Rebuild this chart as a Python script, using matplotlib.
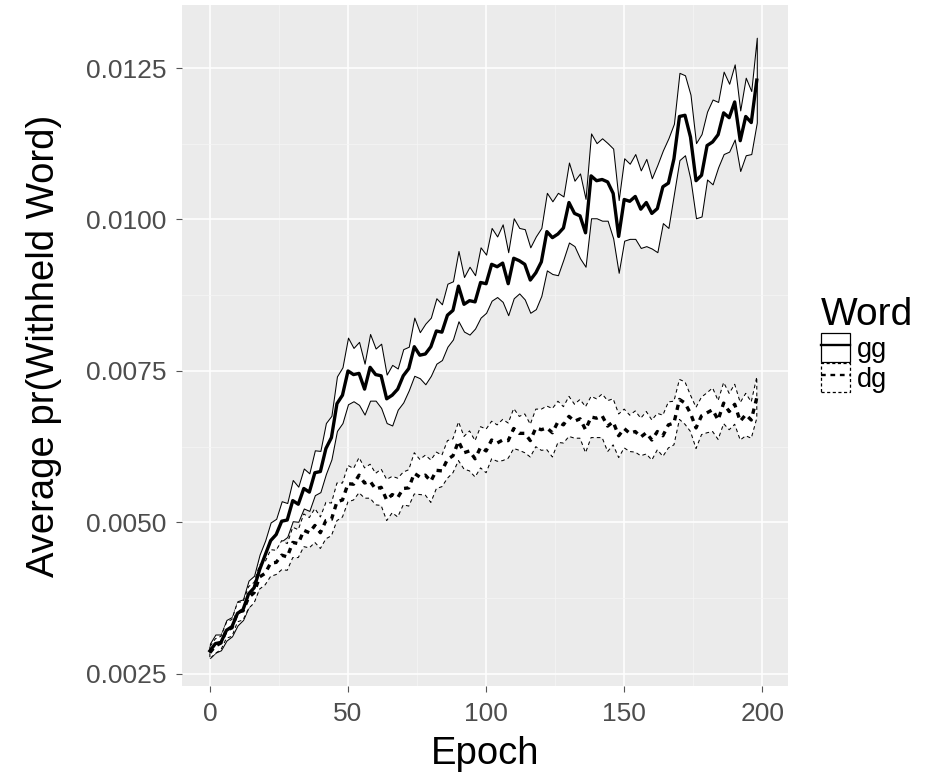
import matplotlib
matplotlib.use("Agg")
import matplotlib.pyplot as plt
from matplotlib.patches import Patch
from matplotlib.lines import Line2D
from matplotlib.legend_handler import HandlerTuple
import numpy as np

plt.rcParams['font.family'] = ['Liberation Sans', 'DejaVu Sans']

# Epochs at which the held-out probability was recorded
epochs = list(range(0, 200, 2))

# Word "gg": mean probability and half-width of its band
gg_mean = [
    0.00288, 0.00300, 0.00302, 0.00322, 0.00328, 0.00350, 0.00356, 0.00382, 0.00392, 0.00422,
    0.00446, 0.00470, 0.00480, 0.00502, 0.00504, 0.00536, 0.00530, 0.00556, 0.00550, 0.00582,
    0.00584, 0.00622, 0.00640, 0.00696, 0.00710, 0.00750, 0.00744, 0.00746, 0.00720, 0.00756,
    0.00744, 0.00742, 0.00704, 0.00710, 0.00720, 0.00742, 0.00754, 0.00790, 0.00776, 0.00778,
    0.00790, 0.00816, 0.00814, 0.00842, 0.00850, 0.00890, 0.00860, 0.00866, 0.00864, 0.00896,
    0.00894, 0.00926, 0.00922, 0.00928, 0.00894, 0.00936, 0.00932, 0.00926, 0.00900, 0.00912,
    0.00930, 0.00980, 0.00970, 0.00976, 0.00986, 0.01028, 0.01010, 0.01006, 0.00978, 0.01072,
    0.01064, 0.01066, 0.01062, 0.01043, 0.00972, 0.01033, 0.01030, 0.01038, 0.01017, 0.01028,
    0.01010, 0.01018, 0.01054, 0.01060, 0.01100, 0.01170, 0.01172, 0.01136, 0.01064, 0.01073,
    0.01122, 0.01128, 0.01140, 0.01176, 0.01168, 0.01194, 0.01130, 0.01170, 0.01160, 0.01230,
]
gg_se = [
    0.00012, 0.00015, 0.00013, 0.00017, 0.00016, 0.00020, 0.00017, 0.00022, 0.00020, 0.00025,
    0.00024, 0.00030, 0.00026, 0.00033, 0.00028, 0.00034, 0.00029, 0.00033, 0.00031, 0.00037,
    0.00034, 0.00042, 0.00036, 0.00045, 0.00046, 0.00055, 0.00044, 0.00052, 0.00042, 0.00055,
    0.00043, 0.00053, 0.00040, 0.00050, 0.00034, 0.00044, 0.00036, 0.00048, 0.00038, 0.00050,
    0.00048, 0.00054, 0.00046, 0.00052, 0.00048, 0.00058, 0.00045, 0.00056, 0.00044, 0.00058,
    0.00048, 0.00060, 0.00050, 0.00064, 0.00052, 0.00066, 0.00054, 0.00058, 0.00054, 0.00060,
    0.00056, 0.00064, 0.00060, 0.00068, 0.00052, 0.00066, 0.00054, 0.00070, 0.00056, 0.00070,
    0.00062, 0.00068, 0.00064, 0.00074, 0.00060, 0.00068, 0.00062, 0.00070, 0.00064, 0.00072,
    0.00058, 0.00072, 0.00060, 0.00074, 0.00058, 0.00072, 0.00066, 0.00070, 0.00062, 0.00068,
    0.00056, 0.00070, 0.00054, 0.00068, 0.00056, 0.00062, 0.00050, 0.00064, 0.00052, 0.00070,
]

# Word "dg": mean probability and half-width of its band
dg_mean = [
    0.00285, 0.00296, 0.00301, 0.00322, 0.00326, 0.00352, 0.00354, 0.00376, 0.00384, 0.00410,
    0.00416, 0.00433, 0.00434, 0.00446, 0.00443, 0.00467, 0.00465, 0.00487, 0.00483, 0.00495,
    0.00483, 0.00503, 0.00505, 0.00534, 0.00537, 0.00564, 0.00563, 0.00578, 0.00565, 0.00568,
    0.00555, 0.00558, 0.00537, 0.00546, 0.00541, 0.00556, 0.00557, 0.00581, 0.00575, 0.00578,
    0.00568, 0.00586, 0.00585, 0.00604, 0.00610, 0.00634, 0.00615, 0.00618, 0.00605, 0.00624,
    0.00618, 0.00636, 0.00631, 0.00636, 0.00635, 0.00655, 0.00647, 0.00647, 0.00635, 0.00656,
    0.00653, 0.00656, 0.00648, 0.00666, 0.00661, 0.00675, 0.00667, 0.00671, 0.00653, 0.00674,
    0.00672, 0.00676, 0.00659, 0.00666, 0.00643, 0.00655, 0.00647, 0.00650, 0.00641, 0.00648,
    0.00636, 0.00650, 0.00643, 0.00661, 0.00664, 0.00703, 0.00697, 0.00680, 0.00656, 0.00676,
    0.00681, 0.00686, 0.00669, 0.00697, 0.00683, 0.00695, 0.00667, 0.00678, 0.00669, 0.00706,
]
dg_se = [
    0.00010, 0.00012, 0.00011, 0.00013, 0.00014, 0.00016, 0.00015, 0.00018, 0.00017, 0.00020,
    0.00019, 0.00022, 0.00020, 0.00024, 0.00022, 0.00025, 0.00023, 0.00027, 0.00025, 0.00028,
    0.00026, 0.00030, 0.00027, 0.00031, 0.00028, 0.00030, 0.00026, 0.00029, 0.00025, 0.00028,
    0.00026, 0.00030, 0.00034, 0.00030, 0.00032, 0.00027, 0.00030, 0.00034, 0.00029, 0.00033,
    0.00035, 0.00030, 0.00026, 0.00031, 0.00028, 0.00032, 0.00027, 0.00033, 0.00030, 0.00034,
    0.00036, 0.00031, 0.00030, 0.00034, 0.00029, 0.00033, 0.00028, 0.00032, 0.00027, 0.00031,
    0.00034, 0.00036, 0.00040, 0.00034, 0.00030, 0.00033, 0.00028, 0.00032, 0.00038, 0.00034,
    0.00032, 0.00036, 0.00042, 0.00038, 0.00036, 0.00032, 0.00030, 0.00034, 0.00031, 0.00035,
    0.00033, 0.00030, 0.00034, 0.00038, 0.00036, 0.00033, 0.00035, 0.00030, 0.00034, 0.00031,
    0.00033, 0.00036, 0.00032, 0.00034, 0.00030, 0.00033, 0.00031, 0.00035, 0.00030, 0.00034,
]

words = ["gg", "dg"]
x_ticks = [0, 50, 100, 150, 200]
y_ticks = [0.0025, 0.0050, 0.0075, 0.0100, 0.0125]

fig = plt.figure(figsize=(9.3, 7.82), dpi=100)
ax = fig.add_axes([182 / 930, 1 - 686 / 782, (788 - 182) / 930, (686 - 5) / 782])
ax.set_facecolor('#EBEBEB')
for s in ax.spines.values():
    s.set_visible(False)

ax.set_xlim(-10.1, 209.3)
ax.set_ylim(0.00230, 0.01354)

# grid
ax.set_xticks(x_ticks)
ax.set_yticks(y_ticks)
ax.set_xticks([25, 75, 125, 175], minor=True)
ax.set_yticks([0.00375, 0.00625, 0.00875, 0.01125], minor=True)
ax.grid(True, which='major', color='white', linewidth=1.1)
ax.grid(True, which='minor', color='#F5F5F5', linewidth=0.55)
ax.set_axisbelow(True)

ax.set_xticklabels([str(v) for v in x_ticks])
ax.set_yticklabels(["%.4f" % v for v in y_ticks])
ax.tick_params(axis='both', which='major', colors='#555555', labelsize=19,
               length=4.5, width=0.8, pad=7)
ax.tick_params(axis='both', which='minor', length=0)
for lab in ax.get_xticklabels() + ax.get_yticklabels():
    lab.set_color('#4D4D4D')

x = np.array(epochs)
series = [
    (np.array(gg_mean), np.array(gg_se), None, None),
    (np.array(dg_mean), np.array(dg_se), (0, (3.5, 3.0)), (0, (1.6, 1.6))),
]

# bands first, then mean lines on top
for mean, se, band_dash, line_dash in series:
    ax.fill_between(x, mean - se, mean + se, facecolor='white', edgecolor='black',
                    linewidth=0.75, linestyle=band_dash if band_dash else '-', zorder=2)
for mean, se, band_dash, line_dash in series:
    ax.plot(x, mean, color='black', linewidth=2.4,
            linestyle=line_dash if line_dash else '-', zorder=3)

ax.set_xlabel("Epoch", fontsize=27.5, labelpad=7)
ax.set_ylabel("Average pr(Withheld Word)", fontsize=27.5, labelpad=17)

handles = [
    (Patch(facecolor='white', edgecolor='black', linewidth=0.9, linestyle='-'),
     Line2D([], [], color='black', linewidth=1.7)),
    (Patch(facecolor='white', edgecolor='black', linewidth=0.9, linestyle=(0, (2.5, 2.0))),
     Line2D([], [], color='black', linewidth=1.7, linestyle=(0, (2.0, 2.0)))),
]
leg = fig.legend(handles, words, loc='upper left',
                 bbox_to_anchor=(802 / 930, 1 - 278 / 782),
                 handler_map={tuple: HandlerTuple(ndivide=1, pad=0)},
                 title="Word", title_fontsize=28, fontsize=19.5,
                 frameon=False, handlelength=1.07, handleheight=1.3,
                 handletextpad=0.25, labelspacing=0.0, borderpad=0.2)
leg._legend_box.align = 'left'

fig.savefig("out.png", dpi=100)
